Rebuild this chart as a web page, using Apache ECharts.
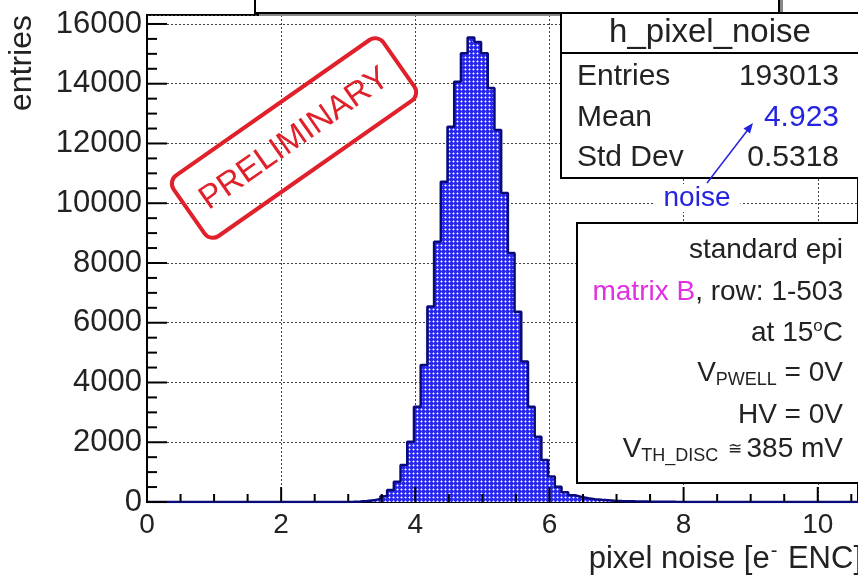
<!DOCTYPE html>
<html>
<head>
<meta charset="utf-8">
<script src="https://cdn.jsdelivr.net/npm/echarts@6/dist/echarts.min.js"></script>
<style>
  html, body { margin: 0; padding: 0; background: #fff; }
  #chart { width: 858px; height: 577px; }
</style>
</head>
<body>
<div id="chart"></div>
<script>
// histogram h_pixel_noise, bins of 0.1 starting at binStart
var binStart = 2.88;
var binWidth = 0.1;
var counts = [
    4, 8, 15, 30, 55, 105, 190, 400, 680, 1240,
    2020, 3190, 4585, 6540, 8710, 10720, 12560, 14070, 15020, 15550,
    15400, 15020, 13860, 12450, 10340, 8330, 6370, 4700, 3190, 2185,
    1405, 850, 510, 330, 230, 170, 125, 95, 75, 60,
    45, 35, 28, 22, 18, 14, 11, 9, 7, 5,
    4, 3
];
var xTicks = [0, 2, 4, 6, 8, 10];
var yTicks = [0, 2000, 4000, 6000, 8000, 10000, 12000, 14000, 16000];
var statsRows = [['Entries', '193013'], ['Mean', '4.923'], ['Std Dev', '0.5318']];

var FONT = '"Liberation Sans", Arial, Helvetica, sans-serif';
var TXT = '#222';

var chart = echarts.init(document.getElementById('chart'));

// blue fill with small white dots, like ROOT fill style
var pc = document.createElement('canvas');
pc.width = 4; pc.height = 4;
var ctx = pc.getContext('2d');
ctx.fillStyle = '#2828f0';
ctx.fillRect(0, 0, 4, 4);
ctx.fillStyle = '#9090ff';
ctx.fillRect(0, 1, 3, 1);
ctx.fillRect(1, 0, 1, 3);
ctx.fillStyle = '#ffffff';
ctx.fillRect(1, 1, 1, 1);

// step line points: left edge of each bin, then closing edge at 0
var xMax = 10.6;
var yMax = 16300;
var histData = [[0, 0]];
for (var i = 0; i < counts.length; i++) {
    histData.push([+(binStart + i * binWidth).toFixed(2), counts[i]]);
}
histData.push([+(binStart + counts.length * binWidth).toFixed(2), 0]);
histData.push([xMax, 0]);

var G = { left: 147, top: 15, width: 711, height: 487 };

function gridLine() {
    return { show: true, lineStyle: { color: '#444', width: 1, type: [2, 2] } };
}

var option = {
    animation: false,
    backgroundColor: '#fff',
    grid: {
        left: G.left, top: G.top, width: G.width, height: G.height,
        show: true, borderColor: '#000', borderWidth: 2, backgroundColor: 'transparent'
    },
    xAxis: {
        type: 'value', min: 0, max: xMax, interval: 2,
        axisLine: { show: true, lineStyle: { color: '#000', width: 2 } },
        axisTick: { show: false },
        splitLine: gridLine(),
        axisLabel: {
            fontSize: 28, fontFamily: FONT, color: TXT, margin: 9, showMaxLabel: false,
            formatter: function (v) { return xTicks.indexOf(v) >= 0 ? String(v) : ''; }
        }
    },
    yAxis: {
        type: 'value', min: 0, max: yMax, interval: 2000,
        axisLine: { show: true, lineStyle: { color: '#000', width: 2 } },
        axisTick: { show: false },
        splitLine: gridLine(),
        axisLabel: {
            fontSize: 31, fontFamily: FONT, color: TXT, margin: 5, showMaxLabel: false,
            formatter: function (v) { return yTicks.indexOf(v) >= 0 ? String(v) : ''; }
        }
    },
    series: [{
        type: 'line',
        step: 'end',
        data: histData,
        symbol: 'none',
        lineStyle: { color: '#0a0a7a', width: 2.5 },
        areaStyle: { color: { image: pc, repeat: 'repeat' }, opacity: 1 }
    }],
    graphic: []
};

var g = option.graphic;
function txt(x, y, text, size, align, color, extra) {
    var s = {
        text: text, x: x, y: y, fontSize: size, fontFamily: FONT,
        fill: color || TXT, align: align || 'left', verticalAlign: 'middle'
    };
    if (extra) { for (var k in extra) s[k] = extra[k]; }
    return { type: 'text', z: 110, style: s };
}

// axis titles
g.push({
    type: 'text', z: 110, x: 22, y: 63, rotation: Math.PI / 2,
    style: { text: 'entries', fontSize: 32, fontFamily: FONT, fill: TXT, align: 'center', verticalAlign: 'middle' }
});
g.push(txt(862, 559, '{n|pixel noise [e}{sup|-}{n| ENC]}', 31, 'right', TXT, {
    rich: {
        n: { fontSize: 31, fontFamily: FONT, fill: TXT },
        sup: { fontSize: 20, fontFamily: FONT, fill: TXT, padding: [0, 2, 16, 1] }
    }
}));

// top title box with shadow
g.push({ type: 'rect', z: 100, shape: { x: 259, y: -10, width: 524, height: 26 }, style: { fill: '#888' } });
g.push({ type: 'rect', z: 101, shape: { x: 255, y: -10, width: 524, height: 23 }, style: { fill: '#fff', stroke: '#000', lineWidth: 2 } });

// stats box
g.push({ type: 'rect', z: 100, shape: { x: 561, y: 13, width: 320, height: 165 }, style: { fill: '#fff', stroke: '#000', lineWidth: 2 } });
g.push({ type: 'line', z: 101, shape: { x1: 561, y1: 53, x2: 880, y2: 53 }, style: { stroke: '#000', lineWidth: 2 } });
g.push(txt(710, 33, 'h_pixel_noise', 33, 'center'));
var rowY = [77, 118, 158];
statsRows.forEach(function (r, i) {
    g.push(txt(577, rowY[i], r[0], 30, 'left'));
    g.push(txt(839, rowY[i], r[1], 30, 'right', i === 1 ? '#2424e0' : TXT));
});

// "noise" annotation with arrow
g.push(txt(697, 198, 'noise', 28, 'center', '#2424e0', { backgroundColor: '#fff', padding: [0, 10] }));
g.push({ type: 'line', z: 111, shape: { x1: 707, y1: 183, x2: 750, y2: 127 }, style: { stroke: '#2424e0', lineWidth: 1.5 } });
g.push({ type: 'polygon', z: 111, shape: { points: [[753, 123], [750, 133.5], [743.5, 128.5]] }, style: { fill: '#2424e0' } });

// info box
g.push({ type: 'rect', z: 100, shape: { x: 577, y: 223, width: 300, height: 260 }, style: { fill: '#fff', stroke: '#000', lineWidth: 2 } });
var R = 843;
var richBase = {
    n: { fontSize: 28, fontFamily: FONT, fill: TXT },
    m: { fontSize: 28, fontFamily: FONT, fill: '#e030e0' },
    sub: { fontSize: 18, fontFamily: FONT, fill: TXT, padding: [14, 0, 0, 0] },
    sup: { fontSize: 17, fontFamily: FONT, fill: TXT, padding: [0, 0, 14, 0] },
    s: { fontSize: 17, fontFamily: FONT, fill: TXT }
};
g.push(txt(R, 250, '{n|standard epi}', 28, 'right', TXT, { rich: richBase }));
g.push(txt(R, 292, '{m|matrix B}{n|, row: 1-503}', 28, 'right', TXT, { rich: richBase }));
g.push(txt(R, 333, '{n|at 15}{sup|o}{n|C}', 28, 'right', TXT, { rich: richBase }));
g.push(txt(R, 373, '{n|V}{sub|PWELL}{n| = 0V}', 28, 'right', TXT, { rich: richBase }));
g.push(txt(R, 415, '{n|HV = 0V}', 28, 'right', TXT, { rich: richBase }));
g.push(txt(R, 449, '{n|V}{sub|TH_DISC}{s|  \u2245 }{n|385 mV}', 28, 'right', TXT, { rich: richBase }));

// PRELIMINARY stamp
g.push({
    type: 'group', z: 120, x: 294, y: 138, rotation: 35 * Math.PI / 180,
    children: [
        { type: 'rect', z: 120, shape: { x: -128, y: -37, width: 256, height: 74, r: 10 },
          style: { fill: 'rgba(255,255,255,0)', stroke: '#e0202a', lineWidth: 4 } },
        { type: 'text', z: 121,
          style: { text: 'PRELIMINARY', x: 0, y: 1, fontSize: 33, fontFamily: FONT, fill: '#e0202a',
                   align: 'center', verticalAlign: 'middle' } }
    ]
});

chart.setOption(option);

// pixel of a data point: through the chart's scales, falling back to the grid box
function toPixel(x, y) {
    var p = null;
    try { p = chart.convertToPixel({ xAxisIndex: 0, yAxisIndex: 0 }, [x, y]); } catch (e) { p = null; }
    if (!p || !isFinite(p[0]) || !isFinite(p[1])) {
        p = [G.left + x / xMax * G.width, G.top + G.height - y / yMax * G.height];
    }
    return p;
}

// inside tick marks (ROOT style): major every 2 / 2000, minor every 0.5 / 500
for (var t = 0; t <= 21; t++) {
    var px = toPixel(t * 0.5, 0);
    var lx = t % 4 === 0 ? 15 : 8;
    g.push({ type: 'line', z: 105, shape: { x1: px[0], y1: px[1], x2: px[0], y2: px[1] - lx },
             style: { stroke: '#000', lineWidth: 2 } });
}
for (var u = 0; u <= 32; u++) {
    var py = toPixel(0, u * 500);
    var ly = u % 4 === 0 ? 20 : 10;
    g.push({ type: 'line', z: 105, shape: { x1: py[0], y1: py[1], x2: py[0] + ly, y2: py[1] },
             style: { stroke: '#000', lineWidth: 2 } });
}
chart.setOption({ graphic: g });
</script>
</body>
</html>
